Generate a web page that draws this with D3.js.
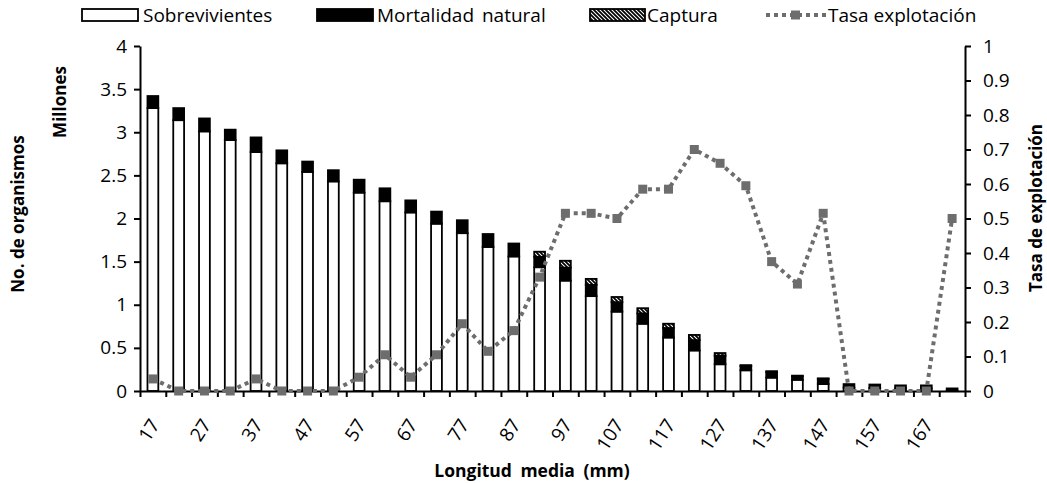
<!DOCTYPE html>
<html><head><meta charset="utf-8">
<script src="https://cdn.jsdelivr.net/npm/d3@7"></script>
<style>
body{margin:0;background:#fff}
svg{display:block}
text{font-family:"Open Sans",Lato,sans-serif;fill:#000}
</style>
</head><body><svg id="c" width="1047" height="483"></svg>
<script>
const categories = [17,22,27,32,37,42,47,52,57,62,67,72,77,82,87,92,97,102,107,112,117,122,127,132,137,142,147,152,157,162,167,172];
const tickLabels = [17,27,37,47,57,67,77,87,97,107,117,127,137,147,157,167];
const sobrevivientes = [3.28,3.14,3.01,2.91,2.77,2.64,2.54,2.43,2.30,2.20,2.07,1.94,1.83,1.67,1.56,1.435,1.28,1.10,0.92,0.78,0.62,0.47,0.31,0.24,0.155,0.13,0.08,0.04,0.035,0.03,0.03,0.005];
const mortalidad = [0.14,0.14,0.15,0.12,0.17,0.15,0.12,0.13,0.15,0.15,0.14,0.14,0.15,0.15,0.15,0.12,0.15,0.13,0.11,0.12,0.11,0.12,0.10,0.05,0.065,0.04,0.06,0.04,0.04,0.035,0.035,0.025];
const captura = [0,0,0,0,0,0,0,0,0,0,0,0,0,0,0,0.06,0.08,0.07,0.06,0.06,0.05,0.06,0.03,0.01,0.01,0.008,0.007,0,0,0,0,0];
const tasa = [0.035,0,0,0,0.035,0,0,0,0.04,0.105,0.04,0.105,0.195,0.115,0.175,0.33,0.515,0.515,0.5,0.585,0.585,0.70,0.66,0.595,0.375,0.31,0.515,0,0,0,0,0.5];
const leftTicks = [0,0.5,1,1.5,2,2.5,3,3.5,4];
const rightTicks = [0,0.1,0.2,0.3,0.4,0.5,0.6,0.7,0.8,0.9,1];
const seriesNames = ["Sobrevivientes","Mortalidad natural","Captura","Tasa explotación"];

const svg = d3.select("#c");
const L = 140, R = 965, T = 46, B = 391;
const grey = "#6d6d6d";
const FF = "'Open Sans',Lato,sans-serif";

const defs = svg.append("defs");
const pat = defs.append("pattern").attr("id","hatch").attr("patternUnits","userSpaceOnUse")
  .attr("width",4).attr("height",4);
pat.append("rect").attr("width",4).attr("height",4).attr("fill","#fff");
pat.append("path").attr("d","M-1,-1L5,5M-1,3L1,5M3,-1L5,1").attr("stroke","#000").attr("stroke-width",1.8);

const x = d3.scaleBand().domain(categories).range([L,R]).paddingInner(0.58).paddingOuter(0.29);
const xb = d3.scaleLinear().domain([0,categories.length]).range([L,R]);
const yL = d3.scaleLinear().domain([0,4]).range([B,T]);
const yR = d3.scaleLinear().domain([0,1]).range([B,T]);

// bars
const stackData = categories.map((c,i)=>({c, s:sobrevivientes[i], m:mortalidad[i], k:captura[i]}));
const g = svg.append("g");
stackData.forEach(d=>{
  const segs = [
    {v0:0, v1:d.s, fill:"#fff"},
    {v0:d.s, v1:d.s+d.m, fill:"#000"},
    {v0:d.s+d.m, v1:d.s+d.m+d.k, fill:"url(#hatch)"}
  ];
  segs.forEach(sg=>{
    if (sg.v1-sg.v0 <= 0) return;
    g.append("rect").attr("x",x(d.c)).attr("width",x.bandwidth())
      .attr("y",yL(sg.v1)).attr("height",yL(sg.v0)-yL(sg.v1))
      .attr("fill",sg.fill).attr("stroke","#000").attr("stroke-width",1.8);
  });
});

// axes
const axL = svg.append("g").attr("transform",`translate(${L},0)`)
  .call(d3.axisLeft(yL).tickValues(leftTicks).tickFormat(d=>String(d)).tickSize(6).tickSizeOuter(0).tickPadding(7));
const axR = svg.append("g").attr("transform",`translate(${R},0)`)
  .call(d3.axisRight(yR).tickValues(rightTicks).tickFormat(d=>String(+d.toFixed(1))).tickSize(6).tickSizeOuter(0).tickPadding(12));
const axB = svg.append("g").attr("transform",`translate(0,${B})`)
  .call(d3.axisBottom(xb).tickValues(d3.range(categories.length+1)).tickFormat("").tickSize(6).tickSizeOuter(0));
const axBL = svg.append("g").attr("transform",`translate(0,${B})`)
  .call(d3.axisBottom(x).tickValues(tickLabels).tickSize(0).tickSizeOuter(0));
axBL.select(".domain").remove();
[axL,axR,axB].forEach(a=>{a.select(".domain").attr("stroke","#000").attr("stroke-width",2);
  a.selectAll(".tick line").attr("stroke","#000").attr("stroke-width",2);});
svg.selectAll(".tick text").attr("font-size",19).attr("font-family",FF);
axBL.selectAll("text").attr("text-anchor","end")
  .attr("transform","translate(2,30) rotate(-57)").attr("dy","0.35em").attr("y",0).attr("x",0);

// line
const line = d3.line().x((d,i)=>x(categories[i])+x.bandwidth()/2).y(d=>yR(d));
svg.append("path").datum(tasa).attr("d",line).attr("fill","none").attr("stroke",grey)
  .attr("stroke-width",4).attr("stroke-dasharray","4,4");
svg.selectAll(".mk").data(tasa).enter().append("rect")
  .attr("x",(d,i)=>x(categories[i])+x.bandwidth()/2-4.5).attr("y",d=>yR(d)-4.5)
  .attr("width",9).attr("height",9).attr("fill",grey);

// titles
svg.append("text").attr("transform","translate(24,214) rotate(-90)").attr("text-anchor","middle")
  .attr("font-size",17).attr("font-weight","bold").text("No. de organismos");
svg.append("text").attr("transform","translate(66,102) rotate(-90)").attr("text-anchor","middle")
  .attr("font-size",17).attr("font-weight","bold").text("Millones");
svg.append("text").attr("transform","translate(1042,208) rotate(-90)").attr("text-anchor","middle")
  .attr("font-size",17).attr("font-weight","bold").text("Tasa de explotación");
svg.append("text").attr("x",532).attr("y",477).attr("text-anchor","middle")
  .attr("font-size",17.5).attr("font-weight","bold").attr("word-spacing",4).text("Longitud media (mm)");

// legend
const lg = svg.append("g");
const ly = 15;
lg.append("rect").attr("x",82).attr("y",ly-6).attr("width",56).attr("height",12).attr("fill","#fff").attr("stroke","#000").attr("stroke-width",1.8);
lg.append("text").attr("x",143).attr("y",ly+7).attr("font-size",19).text(seriesNames[0]);
lg.append("rect").attr("x",317).attr("y",ly-6).attr("width",56).attr("height",12).attr("fill","#000").attr("stroke","#000").attr("stroke-width",1.8);
lg.append("text").attr("x",377).attr("y",ly+7).attr("font-size",19).attr("word-spacing",3).text(seriesNames[1]);
lg.append("rect").attr("x",590).attr("y",ly-6).attr("width",55).attr("height",12).attr("fill","url(#hatch)").attr("stroke","#000").attr("stroke-width",1.8);
lg.append("text").attr("x",647).attr("y",ly+7).attr("font-size",19).text(seriesNames[2]);
lg.append("line").attr("x1",766).attr("x2",826).attr("y1",ly).attr("y2",ly).attr("stroke",grey).attr("stroke-width",4).attr("stroke-dasharray","4,4");
lg.append("rect").attr("x",791).attr("y",ly-4.5).attr("width",9).attr("height",9).attr("fill",grey);
lg.append("text").attr("x",828).attr("y",ly+7).attr("font-size",19).text(seriesNames[3]);
</script>
</body></html>
